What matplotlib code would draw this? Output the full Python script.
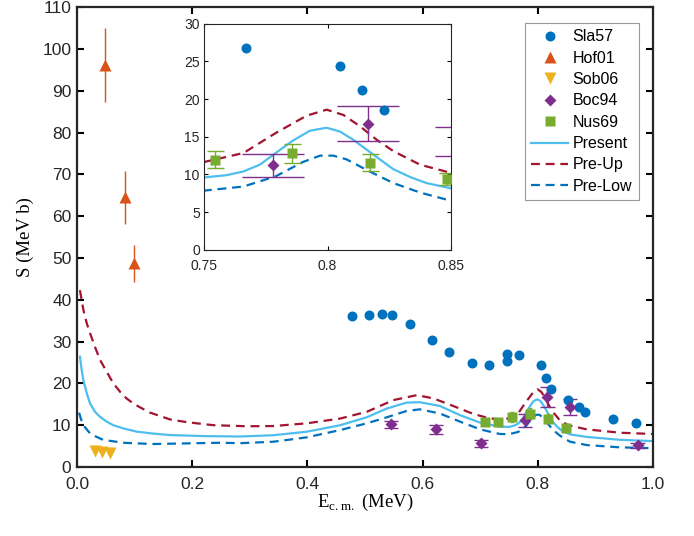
import matplotlib
matplotlib.use('Agg')
import matplotlib.pyplot as plt
import numpy as np

# --- data ---
sla57_x = [0.477, 0.507, 0.529, 0.547, 0.578, 0.617, 0.646, 0.686, 0.715, 0.746, 0.746,
           0.767, 0.805, 0.814, 0.823, 0.852, 0.872, 0.882, 0.931, 0.970]
sla57_y = [36.1, 36.4, 36.7, 36.3, 34.3, 30.3, 27.4, 24.8, 24.3, 27.0, 25.4,
           26.8, 24.4, 21.2, 18.6, 16.0, 14.4, 13.1, 11.4, 10.6]

hof01_x = [0.049, 0.083, 0.0995]
hof01_y = [96.2, 64.5, 48.7]
hof01_err = [8.8, 6.4, 4.4]

sob06_x = [0.032, 0.044, 0.057]
sob06_y = [3.8, 3.6, 3.3]
sob06_err = [1.4, 1.4, 1.4]

boc94_x = [0.545, 0.623, 0.701, 0.778, 0.8165, 0.856, 0.973]
boc94_y = [10.2, 9.0, 5.7, 11.2, 16.75, 14.4, 5.2]
boc94_err = [0.9, 1.0, 0.8, 1.55, 2.3, 1.9, 0.6]
boc94_cap = 0.0125

nus69_x = [0.708, 0.730, 0.7545, 0.7857, 0.8173, 0.8485]
nus69_y = [10.7, 10.7, 11.96, 12.8, 11.56, 9.44]
nus69_err = [0.6, 0.6, 1.15, 1.3, 1.1, 0.8]
nus69_cap = 0.0034

present_x = [0.005, 0.0081, 0.011, 0.0139, 0.0179, 0.0226, 0.0313, 0.040, 0.0515, 0.063,
             0.080, 0.104, 0.132, 0.161, 0.219, 0.283, 0.341, 0.399,
             0.457, 0.503, 0.538, 0.572, 0.595, 0.630, 0.665, 0.700, 0.734, 0.750, 0.759,
             0.766, 0.7726, 0.779, 0.786, 0.7928, 0.7996, 0.805, 0.8104, 0.8158, 0.8212,
             0.8266, 0.8334, 0.840, 0.850, 0.856, 0.885, 0.943, 1.0]
present_y = [26.4, 23.2, 20.8, 19.2, 17.2, 15.2, 13.2, 12.0, 10.85, 10.0,
             9.25, 8.45, 8.0, 7.65, 7.4, 7.3, 7.6, 8.45,
             10.0, 11.9, 14.0, 15.4, 15.5, 14.6, 12.4, 10.6, 9.65, 9.6, 9.9,
             10.4, 11.3, 12.85, 14.5, 15.8, 16.2, 15.7, 14.6, 13.3, 12.0,
             10.7, 9.66, 8.86, 8.15, 7.8, 7.2, 6.5, 6.2]

preup_x = [0.005, 0.008, 0.011, 0.0168, 0.0226, 0.031, 0.040, 0.0515, 0.063, 0.0747, 0.086,
           0.0978, 0.109, 0.127, 0.144, 0.161, 0.185, 0.208, 0.237, 0.295,
           0.341, 0.399, 0.457, 0.503, 0.549, 0.590, 0.619, 0.653, 0.688, 0.717, 0.740,
           0.750, 0.766, 0.779, 0.7915, 0.7996, 0.8064, 0.8131, 0.8199, 0.8266, 0.8374,
           0.850, 0.856, 0.885, 0.943, 1.0]
preup_y = [42.3, 40.0, 37.6, 34.4, 32.0, 28.8, 25.6, 22.8, 20.0, 18.0, 16.4,
           15.2, 14.3, 13.0, 12.2, 11.4, 10.85, 10.45, 10.0, 9.75,
           9.8, 10.45, 11.6, 13.2, 16.0, 17.2, 16.4, 14.6, 12.7, 11.6, 11.4,
           11.65, 12.85, 15.5, 17.8, 18.6, 17.9, 16.4, 14.6, 13.1, 11.3,
           10.2, 9.9, 9.0, 8.2, 7.9]

prelow_x = [0.0035, 0.007, 0.011, 0.0168, 0.0226, 0.031, 0.046, 0.063, 0.080, 0.132, 0.190,
            0.248, 0.283, 0.341, 0.399,
            0.457, 0.503, 0.538, 0.572, 0.595, 0.630, 0.665, 0.700, 0.734, 0.750, 0.766,
            0.779, 0.790, 0.797, 0.8023, 0.8077, 0.8158, 0.8266, 0.8374, 0.850, 0.856,
            0.885, 0.943, 1.0]
prelow_y = [13.0, 11.4, 10.0, 9.0, 8.05, 7.4, 6.45, 6.15, 5.8, 5.5, 5.65,
            5.8, 5.7, 6.05, 7.1,
            8.85, 10.45, 11.9, 13.4, 13.8, 12.8, 10.85, 9.0, 7.9, 7.85, 8.4,
            9.75, 11.65, 12.5, 12.5, 12.0, 10.6, 8.86, 7.6, 6.5, 6.05,
            5.25, 4.7, 4.5]

c_sla = '#0072BD'
c_hof = '#D95319'
c_sob = '#EDB120'
c_boc = '#7E2F8E'
c_nus = '#77AC30'
c_pre = '#4DBEEE'
c_up = '#A2142F'
c_low = '#0072BD'

plt.rcParams['font.family'] = ['Liberation Sans', 'DejaVu Sans']
plt.rcParams['mathtext.fontset'] = 'custom'
plt.rcParams['mathtext.rm'] = 'Liberation Serif'
serif = ['Liberation Serif', 'DejaVu Serif']


def draw_all(ax, legend_labels=True):
    lab = (lambda s: s) if legend_labels else (lambda s: '_nolegend_')
    ax.plot(sla57_x, sla57_y, 'o', color=c_sla, ms=7.2, mec='none',
            label=lab('Sla57'), zorder=4)
    ax.errorbar(hof01_x, hof01_y, yerr=hof01_err, fmt='none', ecolor=c_hof, elinewidth=1, zorder=3)
    ax.plot(hof01_x, hof01_y, '^', color=c_hof, ms=9, mec='none',
            label=lab('Hof01'), zorder=4)
    sob_y = np.array(sob06_y)
    ax.vlines(sob06_x, sob_y, sob_y + np.array(sob06_err), color=c_sob, lw=1, zorder=3)
    ax.plot(sob06_x, sob06_y, 'v', color=c_sob, ms=8.5, mec='none',
            label=lab('Sob06'), zorder=4)
    by = np.array(boc94_y)
    be = np.array(boc94_err)
    bx = np.array(boc94_x)
    ax.vlines(bx, by - be, by + be, color=c_boc, lw=1, zorder=3)
    ax.hlines(np.r_[by - be, by + be], np.r_[bx, bx] - boc94_cap, np.r_[bx, bx] + boc94_cap,
              color=c_boc, lw=1, zorder=3)
    ax.plot(boc94_x, boc94_y, 'D', color=c_boc, ms=6.3, mec='none',
            label=lab('Boc94'), zorder=4)
    ny = np.array(nus69_y)
    ne = np.array(nus69_err)
    nx = np.array(nus69_x)
    ax.vlines(nx, ny - ne, ny + ne, color=c_nus, lw=1, zorder=3)
    ax.hlines(np.r_[ny - ne, ny + ne], np.r_[nx, nx] - nus69_cap, np.r_[nx, nx] + nus69_cap,
              color=c_nus, lw=1, zorder=3)
    ax.plot(nus69_x, nus69_y, 's', color=c_nus, ms=6.5, mec='none',
            label=lab('Nus69'), zorder=4)
    ax.plot(present_x, present_y, '-', color=c_pre, lw=1.6, label=lab('Present'), zorder=2)
    ax.plot(preup_x, preup_y, '--', color=c_up, lw=1.6, dashes=(4, 2.6),
            label=lab('Pre-Up'), zorder=2)
    ax.plot(prelow_x, prelow_y, '--', color=c_low, lw=1.6, dashes=(4, 2.6),
            label=lab('Pre-Low'), zorder=2)


fig = plt.figure(figsize=(6.94, 5.36), dpi=100)
ax = fig.add_axes([0.111, 0.1287, 0.830, 0.858])
draw_all(ax)
ax.set_xlim(0, 1.0)
ax.set_ylim(0, 110)
ax.set_xticks(np.arange(0, 1.01, 0.2))
ax.set_xticklabels([f'{v:.1f}' for v in np.arange(0, 1.01, 0.2)])
ax.set_yticks(np.arange(0, 111, 10))
ax.tick_params(direction='in', length=5, width=1.5, top=True, right=True,
               labelsize=12.5, labelcolor='#262626', pad=4)
ax.tick_params(axis='x', pad=7)
for s in ax.spines.values():
    s.set_linewidth(1.6)
    s.set_color('#262626')
ax.set_xlabel(r'E$_{\rm c.m.}$ (MeV)', family=serif, fontsize=13.5, labelpad=0)
ax.set_ylabel('S (MeV b)', family=serif, fontsize=13.5, labelpad=6)

leg = ax.legend(loc='upper right', bbox_to_anchor=(0.975, 0.966), fontsize=11.5,
                frameon=True, fancybox=False, edgecolor='#999999', framealpha=1,
                labelspacing=0.4, handlelength=2.3, handletextpad=0.3,
                borderpad=0.4, borderaxespad=0)
leg.get_frame().set_linewidth(0.8)

axin = fig.add_axes([0.294, 0.534, 0.356, 0.4216])
draw_all(axin, legend_labels=False)
axin.set_xlim(0.75, 0.85)
axin.set_ylim(0, 30)
axin.set_xticks([0.75, 0.8, 0.85])
axin.set_xticklabels(['0.75', '0.8', '0.85'])
axin.set_yticks(np.arange(0, 31, 5))
axin.tick_params(direction='in', length=3, width=0.8, top=True, right=True,
                 labelsize=10, labelcolor='#262626', pad=3)
axin.tick_params(axis='x', pad=7)
for s in axin.spines.values():
    s.set_linewidth(0.8)
    s.set_color('#262626')

fig.savefig('out.png', dpi=100)
